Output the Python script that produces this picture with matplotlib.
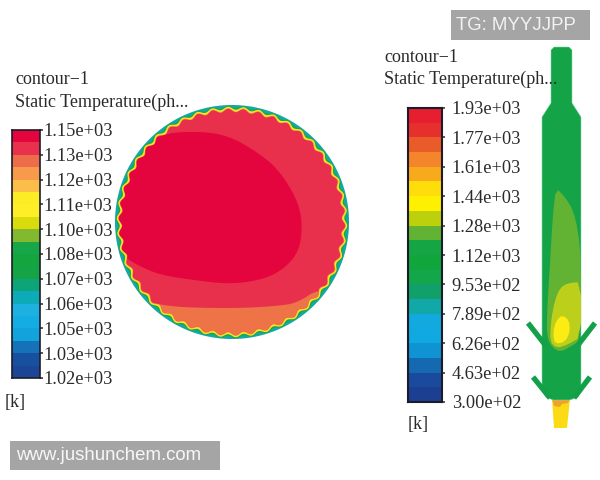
import numpy as np
import matplotlib
matplotlib.use("Agg")
import matplotlib.pyplot as plt
from matplotlib.colors import ListedColormap
from matplotlib.patches import Polygon, Rectangle

plt.rcParams["font.family"] = ["Liberation Serif", "DejaVu Serif"]

W, H = 600, 480

# Contour legend bands, lowest band first
left_bands = ["#1c4596", "#17509f", "#1572b8", "#12a2dc", "#14ade3", "#1cb1de", "#0daab8", "#0da578",
              "#15a445", "#13a53e", "#17a649", "#82b92f", "#dadb0c", "#fdee28", "#fcec26", "#fbbf49",
              "#f79a4c", "#ed6d4b", "#e9304c", "#e4053f"]
right_bands = ["#1c3f92", "#1a4a9c", "#1469b0", "#0f93d2", "#0fa8e0", "#12aade", "#12a8a8", "#119f6a",
               "#14a64a", "#10a63c", "#15a545", "#62b233", "#bcd00c", "#ffef00", "#ffdd0b", "#f6aa1c",
               "#f4852a", "#e95c2a", "#e6302e", "#e71d30"]
left_ticks = ["1.02e+03", "1.03e+03", "1.05e+03", "1.06e+03", "1.07e+03", "1.08e+03",
              "1.10e+03", "1.11e+03", "1.12e+03", "1.13e+03", "1.15e+03"]
right_ticks = ["3.00e+02", "4.63e+02", "6.26e+02", "7.89e+02", "9.53e+02", "1.12e+03",
               "1.28e+03", "1.44e+03", "1.61e+03", "1.77e+03", "1.93e+03"]

# Section view: outline of the hottest zones in image pixels
core_zone = [(177, 132), (210, 132), (233, 138), (257, 152), (277, 168), (293, 192), (301, 212),
             (302, 235), (297, 255), (280, 272), (257, 281), (227, 284), (193, 280), (160, 275),
             (137, 265), (120, 254), (100, 240), (100, 190), (135, 150), (150, 140), (163, 135)]
lower_zone = [(150, 303), (177, 307), (210, 308), (243, 308), (277, 306), (297, 303), (320, 288),
              (340, 300), (300, 350), (160, 350), (130, 315)]

# Furnace view outlines
shell = [(554, 47), (569, 47), (572, 50), (572, 103), (581, 117), (581, 391), (578, 397), (570, 400),
         (553, 400), (546, 397), (542, 391), (542, 117), (551, 103), (551, 50)]
tuyere_arms = [[(528, 323), (546, 346)], [(595, 323), (578, 345)],
               [(533, 377), (550, 398)], [(590, 377), (574, 398)]]
throat = [(552, 399), (570, 399), (567, 428), (554, 428)]
throat_hot = [(552, 399), (570, 399), (568, 403), (562, 404), (560, 407), (554, 406)]
lime_zone = [(556, 188), (565, 197), (573, 210), (578, 230), (581, 260), (581, 340), (570, 347),
             (560, 352), (552, 347), (547, 337), (547, 313), (550, 263), (553, 213)]
olive_zone = [(560, 288), (568, 283), (581, 282), (581, 337), (567, 345), (557, 348), (550, 342),
              (551, 320), (555, 300)]
yellow_zone = [(562, 315), (569, 320), (570, 332), (565, 342), (555, 344), (553, 333), (556, 321)]

fig = plt.figure(figsize=(W / 100, H / 100), dpi=100, facecolor="white")
ax = fig.add_axes([0, 0, 1, 1])
ax.set_xlim(0, W)
ax.set_ylim(H, 0)
ax.axis("off")


def rounded(points, passes=2):
    """Corner-cutting pass that softens a closed outline."""
    pts = np.asarray(points, dtype=float)
    for _ in range(passes):
        nxt = np.roll(pts, -1, axis=0)
        pts = np.column_stack([0.75 * pts + 0.25 * nxt, 0.25 * pts + 0.75 * nxt]).reshape(-1, 2)
    return pts


def colour_legend(x0, x1, y0, y1, bands, ticks, lw, pad):
    """Stepped legend bar with one tick per two bands."""
    bar = fig.add_axes([x0 / W, 1 - y1 / H, (x1 - x0) / W, (y1 - y0) / H])
    edges = np.arange(len(bands) + 1)
    bar.pcolormesh([0, 1], edges, edges[:-1, None], cmap=ListedColormap(bands),
                   vmin=0, vmax=len(bands))
    bar.set_xticks([])
    bar.yaxis.tick_right()
    bar.set_yticks(edges[::2], ticks)
    bar.tick_params(axis="y", length=2, width=1.1, pad=pad, labelsize=13.2, colors="#2a2a2a")
    for spine in bar.spines.values():
        spine.set_linewidth(lw)
        spine.set_color("#1c1c28")


colour_legend(12, 40, 130, 378, left_bands, left_ticks, 1.2, 0.3)
colour_legend(408, 442, 108, 402, right_bands, right_ticks, 1.5, 5)

for x, top, unit_x, unit_y in [(15, 80, 5, 403), (384, 57, 408, 425)]:
    ax.text(x, top, "contour\u22121", fontsize=13, color="#2a2a2a", va="center")
    ax.text(x, top + 22, "Static Temperature(ph...", fontsize=13, color="#2a2a2a", va="center")
    ax.text(unit_x, unit_y, "[k]", fontsize=13, color="#2a2a2a", va="center")


def scalloped(radius, amp, lobes=46, cx=232, cy=222):
    """Closed wavy ring around the section centre."""
    theta = np.linspace(0, 2 * np.pi, 1200)
    r = radius + amp * np.sin(lobes * theta)
    return np.column_stack([cx + r * np.cos(theta), cy + r * np.sin(theta)])


ax.add_patch(Polygon(scalloped(117, 0), fc="#16a7a4", ec="none"))
ax.add_patch(Polygon(scalloped(115.0, 1.1), fc="#18a84a", ec="none"))
ax.add_patch(Polygon(scalloped(113.8, 1.5), fc="#f9e71e", ec="none"))
ax.add_patch(Polygon(scalloped(112.4, 1.7), fc="#f7a94b", ec="none"))
inner = Polygon(scalloped(111.6, 1.7), fc="#e8304c", ec="none")
ax.add_patch(inner)
for pts, col in [(lower_zone, "#ee7448"), (core_zone, "#e4053f")]:
    zone = Polygon(rounded(pts), fc=col, ec="none")
    ax.add_patch(zone)
    zone.set_clip_path(inner)

# Furnace body, side nozzles and hearth throat
for arm in tuyere_arms:
    xs, ys = zip(*arm)
    ax.plot(xs, ys, color="#12a148", lw=3.8, solid_capstyle="butt")
ax.add_patch(Polygon(throat, fc="#fbdc14", ec="none"))
ax.add_patch(Polygon(throat_hot, fc="#f0a02c", ec="none"))
ax.add_patch(Polygon(shell, fc="#15a347", ec="#7fd6a8", lw=0.4))
ax.add_patch(Polygon(rounded(lime_zone, 1), fc="#62b233", ec="none"))
ax.add_patch(Polygon(rounded(olive_zone, 1), fc="#bccf1a", ec="none"))
ax.add_patch(Polygon(rounded(yellow_zone, 1), fc="#fdeb14", ec="none"))

# Caption boxes
ax.add_patch(Rectangle((451, 10), 139, 30, fc="#a5a5a5", ec="none"))
ax.text(456, 26, "TG: MYYJJPP", family="Liberation Sans", fontsize=13.4, color="#f2f2f2", va="center")
ax.add_patch(Rectangle((10, 441), 210, 29, fc="#a5a5a5", ec="none"))
ax.text(16, 455, "www.jushunchem.com", family="Liberation Sans", fontsize=13.4, color="#f7f7f7", va="center")

fig.savefig("out.png", dpi=100, facecolor="white")
